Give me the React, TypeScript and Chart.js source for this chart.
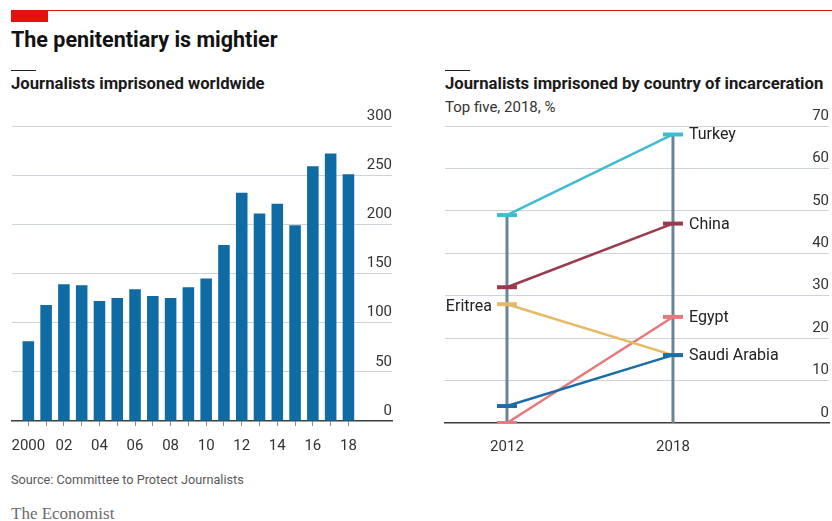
import React, { useEffect, useRef } from 'react';
import { Chart, registerables } from 'chart.js';

Chart.register(...registerables);

// ---- Data: left chart ----
const barYears = [2000, 2001, 2002, 2003, 2004, 2005, 2006, 2007, 2008, 2009, 2010, 2011, 2012, 2013, 2014, 2015, 2016, 2017, 2018];
const imprisoned = [81, 118, 139, 138, 122, 125, 134, 127, 125, 136, 145, 179, 232, 211, 221, 199, 259, 272, 251];
const barTickLabels = ['2000', '', '02', '', '04', '', '06', '', '08', '', '10', '', '12', '', '14', '', '16', '', '18'];
const leftYTicks = [0, 50, 100, 150, 200, 250, 300];

// ---- Data: right chart ----
const slopeYears = [2012, 2018];
const slopeTickLabels = ['2012', '2018'];
const countries = ['Turkey', 'China', 'Eritrea', 'Egypt', 'Saudi Arabia'];
const turkey = [49, 68];
const china = [32, 47];
const eritrea = [28, 16];
const egypt = [0, 25];
const saudiArabia = [4, 16];
const labelEnd = [1, 1, 0, 1, 1]; // which year each country's name sits beside
const rightYTicks = [0, 10, 20, 30, 40, 50, 60, 70];

const countrySeries = [turkey, china, eritrea, egypt, saudiArabia];
const countryColors = ['#3ebcd2', '#9a3a4e', '#e6b964', '#e8787a', '#1a6ea6'];
const countryOrder = [3, 4, 2, 5, 1];

const FONT = 'Roboto';
Chart.defaults.font.family = FONT;

function BarChart() {
  const ref = useRef<HTMLCanvasElement>(null);
  useEffect(() => {
    if (!ref.current) return;
    const chart = new Chart(ref.current, {
      type: 'bar',
      data: {
        datasets: [
          {
            data: barYears.map((x, i) => ({ x, y: imprisoned[i] })),
            backgroundColor: '#0e6ba3',
            barPercentage: 0.65,
            categoryPercentage: 1,
          },
        ],
      },
      options: {
        animation: false,
        responsive: false,
        maintainAspectRatio: false,
        layout: { autoPadding: false, padding: { left: 11, right: 8, top: 26, bottom: 4 } },
        plugins: { legend: { display: false }, tooltip: { enabled: false } },
        scales: {
          x: {
            type: 'linear',
            min: 1999.08,
            max: 2020.45,
            offset: false,
            afterBuildTicks: (axis: any) => {
              axis.ticks = barYears.map((v) => ({ value: v }));
            },
            grid: {
              display: true,
              drawOnChartArea: false,
              drawTicks: true,
              tickLength: 5,
              tickColor: '#8a8a8a',
              offset: false,
            },
            border: { display: true, color: '#3d3d3d', width: 1.5 },
            ticks: {
              autoSkip: false,
              maxRotation: 0,
              padding: 11,
              color: '#333',
              font: { family: FONT, size: 15 },
              callback: (v: any) => {
                const i = barYears.indexOf(Number(v));
                return i >= 0 ? barTickLabels[i] : '';
              },
            },
          },
          y: {
            position: 'right',
            min: 0,
            max: 300,
            afterBuildTicks: (axis: any) => {
              axis.ticks = leftYTicks.map((v) => ({ value: v }));
            },
            grid: {
              color: (c: any) => (c.tick && c.tick.value === 0 ? 'rgba(0,0,0,0)' : '#ccd4da'),
              drawTicks: false,
              lineWidth: 1,
            },
            border: { display: false },
            ticks: {
              mirror: true,
              padding: 0,
              labelOffset: -10,
              color: '#333',
              font: { family: FONT, size: 15 },
            },
          },
        },
      },
    } as any);
    return () => chart.destroy();
  }, []);
  return <canvas ref={ref} width={400} height={370} style={{ position: 'absolute', left: 0, top: 100, width: 400, height: 370 }} />;
}

const nameLabels = {
  id: 'nameLabels',
  afterDatasetsDraw(chart: any) {
    const ctx = chart.ctx;
    ctx.save();
    ctx.font = `16px ${FONT}`;
    ctx.fillStyle = '#222';
    ctx.textBaseline = 'middle';
    countries.forEach((name, k) => {
      const meta = chart.getDatasetMeta(k);
      const pt = meta.data[labelEnd[k]];
      if (!pt) return;
      if (labelEnd[k] === 0) {
        ctx.textAlign = 'right';
        ctx.fillText(name, pt.x - 15, pt.y + 3);
      } else {
        ctx.textAlign = 'left';
        ctx.fillText(name, pt.x + 16, pt.y + 1);
      }
    });
    ctx.restore();
  },
};

function SlopeChart() {
  const ref = useRef<HTMLCanvasElement>(null);
  useEffect(() => {
    if (!ref.current) return;
    const countrySets = countries.map((name, k) => ({
      label: name,
      data: slopeYears.map((x, i) => ({ x, y: countrySeries[k][i] })),
      borderColor: countryColors[k],
      backgroundColor: countryColors[k],
      borderWidth: 2.5,
      pointStyle: 'line',
      pointRadius: 10,
      pointBorderWidth: 4,
      pointBorderColor: countryColors[k],
      pointBackgroundColor: countryColors[k],
      order: countryOrder[k],
    }));
    const stemSets = slopeYears.map((yr, i) => ({
      label: 'stem' + yr,
      data: [
        { x: yr, y: 0 },
        { x: yr, y: Math.max(...countrySeries.map((s) => s[i])) },
      ],
      borderColor: '#6b8596',
      borderWidth: 3,
      pointRadius: 0,
      order: 10,
    }));
    const chart = new Chart(ref.current, {
      type: 'line',
      data: { datasets: [...countrySets, ...stemSets] },
      options: {
        animation: false,
        responsive: false,
        maintainAspectRatio: false,
        layout: { autoPadding: false, padding: { left: 25, right: 3, top: 26, bottom: 1 } },
        plugins: { legend: { display: false }, tooltip: { enabled: false } },
        scales: {
          x: {
            type: 'linear',
            min: 2009.76,
            max: 2023.64,
            afterBuildTicks: (axis: any) => {
              axis.ticks = slopeYears.map((v) => ({ value: v }));
            },
            grid: { display: true, drawOnChartArea: false, drawTicks: false },
            border: { display: true, color: '#3d3d3d', width: 1.5 },
            ticks: {
              autoSkip: false,
              maxRotation: 0,
              padding: 15,
              color: '#333',
              font: { family: FONT, size: 15 },
              callback: (v: any) => {
                const i = slopeYears.indexOf(Number(v));
                return i >= 0 ? slopeTickLabels[i] : '';
              },
            },
          },
          y: {
            position: 'right',
            min: 0,
            max: 70,
            afterBuildTicks: (axis: any) => {
              axis.ticks = rightYTicks.map((v) => ({ value: v }));
            },
            grid: {
              color: (c: any) => (c.tick && c.tick.value === 0 ? 'rgba(0,0,0,0)' : '#ccd4da'),
              drawTicks: false,
              lineWidth: 1,
            },
            border: { display: false },
            ticks: {
              mirror: true,
              padding: 0,
              labelOffset: -10,
              color: '#333',
              font: { family: FONT, size: 15 },
            },
          },
        },
      },
      plugins: [nameLabels],
    } as any);
    return () => chart.destroy();
  }, []);
  return <canvas ref={ref} width={412} height={372} style={{ position: 'absolute', left: 420, top: 100, width: 412, height: 372 }} />;
}

const abs = (s: React.CSSProperties): React.CSSProperties => ({ position: 'absolute', whiteSpace: 'nowrap', margin: 0, ...s });

export default function App() {
  return (
    <div style={abs({ left: 0, top: 0, width: 832, height: 521, background: '#fff', fontFamily: FONT, overflow: 'hidden' })}>
      <div style={abs({ left: 11, top: 10, width: 821, height: 1, background: '#e3120b' })} />
      <div style={abs({ left: 11, top: 10, width: 37, height: 12, background: '#e3120b' })} />
      <div style={abs({ left: 11, top: 29, fontSize: 21.5, lineHeight: '21.5px', fontWeight: 700, color: '#121212' })}>The penitentiary is mightier</div>

      <div style={abs({ left: 11, top: 70, width: 25, height: 1, background: '#222' })} />
      <div style={abs({ left: 11, top: 76, fontSize: 16.7, lineHeight: '16.7px', fontWeight: 700, color: '#1a1a1a' })}>Journalists imprisoned worldwide</div>

      <div style={abs({ left: 445, top: 70, width: 25, height: 1, background: '#222' })} />
      <div style={abs({ left: 445, top: 76, fontSize: 16.7, lineHeight: '16.7px', fontWeight: 700, color: '#1a1a1a' })}>Journalists imprisoned by country of incarceration</div>
      <div style={abs({ left: 445, top: 100, fontSize: 15, lineHeight: '15px', color: '#333' })}>Top five, 2018, %</div>

      <BarChart />
      <SlopeChart />

      <div style={abs({ left: 11, top: 474, fontSize: 12.7, lineHeight: '12.7px', color: '#595959' })}>Source: Committee to Protect Journalists</div>
      <div style={abs({ left: 11, top: 505, fontSize: 17, lineHeight: '17px', color: '#6b6b6b', fontFamily: '"Liberation Serif", serif' })}>The Economist</div>
    </div>
  );
}
